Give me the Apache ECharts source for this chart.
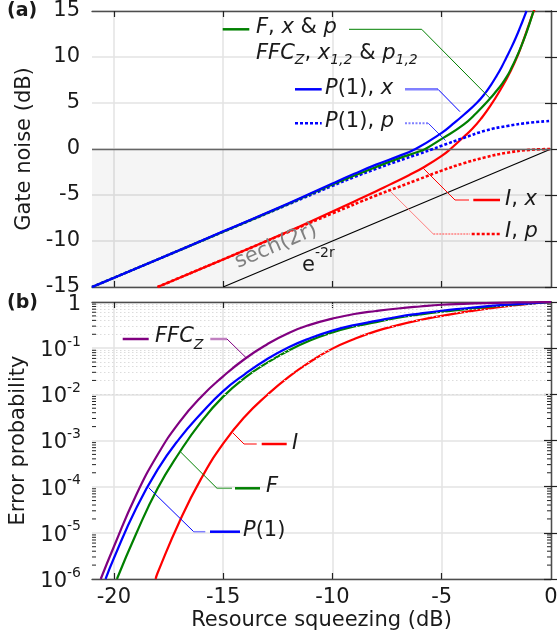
<!DOCTYPE html>
<html><head><meta charset="utf-8">
<script src="https://cdn.jsdelivr.net/npm/echarts@6/dist/echarts.min.js"></script>
<style>html,body{margin:0;padding:0;background:#fff}#c{width:557px;height:642px}</style>
</head><body><div id="c"></div>
<script>
// ---------- tick labels ----------
const xTickLabels = [-20, -15, -10, -5, 0];
const noiseTicks = [-15, -10, -5, 0, 5, 10, 15];
const probTicks = [1e-6, 1e-5, 1e-4, 1e-3, 1e-2, 1e-1, 1];

// ---------- panel (a): gate noise (dB) vs resource squeezing (dB) ----------
const e2rX = [-15, 0];
const e2rY = [-15, 0];

const p1xX = [-21, -18, -15, -12, -10, -9, -8, -7, -6.2, -5, -4.5, -4, -3.4, -3, -2.75, -2.5, -2.25, -2.05, -1.8, -1.6, -1.4, -1.25, -1.12];
const p1xY = [-15, -12, -8.95, -5.9, -3.75, -2.7, -1.7, -0.8, 0, 1.75, 2.7, 3.7, 5.0, 6.1, 6.95, 7.9, 8.95, 9.9, 11.1, 12.15, 13.3, 14.2, 15];

const fX = [-21, -18, -15, -12, -10, -8, -7, -6, -5.75, -5, -4, -3.4, -2.8, -2.5, -2.25, -2, -1.8, -1.6, -1.4, -1.2, -1.0, -0.8];
const fY = [-15, -12, -9, -5.95, -3.85, -1.95, -1.05, -0.25, 0, 1.1, 2.65, 3.95, 5.45, 6.3, 7.05, 7.95, 8.85, 9.85, 10.95, 12.15, 13.5, 15];

const p1pX = [-21, -18, -15, -12, -10, -9, -8, -7, -6, -5.4, -5, -4, -3, -2, -1, 0];
const p1pY = [-15, -12, -9, -6.0, -4.0, -3.05, -2.15, -1.3, -0.5, 0, 0.35, 1.2, 2.0, 2.5, 2.85, 3.05];

const ixX = [-18, -15, -12, -11.5, -10, -9, -8, -7.4, -6.5, -5.8, -5, -4.6, -4, -3.6, -3.2, -2.8, -2.3, -1.85, -1.5, -1.25, -1.0, -0.85, -0.7];
const ixY = [-15, -12, -8.95, -8.42, -6.8, -5.7, -4.6, -3.9, -2.85, -1.95, -0.75, 0, 1.3, 2.2, 3.3, 4.6, 6.5, 8.45, 10.3, 11.9, 13.6, 14.6, 15.5];

const ipX = [-18, -15, -12, -10, -8, -7, -6, -5, -4, -3, -2, -1, 0];
const ipY = [-15, -12.0, -9.0, -7.0, -5.05, -4.15, -3.25, -2.35, -1.55, -0.9, -0.4, -0.1, 0];

// ---------- panel (b): error probability vs resource squeezing (dB) ----------
const ffcX = [-20.6, -20, -19, -18, -17, -16, -15, -14, -13, -12, -11, -10, -9, -8, -7, -6, -5, -4, -3, -2, -1, 0];
const ffcP = [1e-6, 5.0e-6, 6.3e-5, 4.9e-4, 2.5e-3, 8.9e-3, 0.0245, 0.059, 0.12, 0.214, 0.324, 0.437, 0.55, 0.638, 0.724, 0.80, 0.871, 0.912, 0.944, 0.97, 0.986, 1.0];

const pX = [-20.38, -20, -19, -18, -17, -16, -15, -14, -13, -12, -11, -10, -9, -8, -7, -6, -5, -4, -3, -2, -1, 0];
const pP = [1e-6, 2.82e-6, 3.24e-5, 2.34e-4, 1.10e-3, 3.89e-3, 0.01175, 0.0275, 0.0575, 0.1047, 0.166, 0.24, 0.316, 0.389, 0.479, 0.562, 0.646, 0.724, 0.804, 0.871, 0.933, 1.0];

const fbX = [-19.86, -19, -18, -17, -16, -15, -14, -13, -12, -11, -10, -9, -8, -7, -6, -5, -4, -3, -2, -1, 0];
const fbP = [1e-6, 9.12e-6, 9.12e-5, 5.5e-4, 2.57e-3, 8.91e-3, 0.0229, 0.0479, 0.0891, 0.148, 0.219, 0.295, 0.367, 0.457, 0.537, 0.617, 0.692, 0.776, 0.851, 0.923, 1.0];

const iX = [-18.09, -18, -17, -16, -15, -14, -13, -12, -11, -10, -9, -8, -7, -6, -5, -4, -3, -2, -1, 0];
const iP = [1e-6, 1.35e-6, 1.74e-5, 1.51e-4, 8.51e-4, 3.31e-3, 9.55e-3, 0.024, 0.0513, 0.0977, 0.158, 0.234, 0.316, 0.407, 0.501, 0.603, 0.708, 0.813, 0.912, 1.0];

// ---------- styling ----------
const FONT = 'DejaVu Sans';
const TXT = '#1a1a1a';
const BLUE = '#0000ff', GREEN = '#008000', RED = '#ff0000', PURPLE = '#800080';
const LBLUE = '#8080ff', LGREEN = '#66b366', LRED = '#ff8080', LPURPLE = '#c080c0';
const FRAME = '#4d4d4d';
const GRIDC = '#e3e3e3';

const pairs = (xs, ys) => xs.map((x, i) => [x, ys[i]]);

const chart = echarts.init(document.getElementById('c'), null, {renderer: 'canvas'});

function xAx(grid, pos, labels, split, name) {
  return {
    type: 'value', gridIndex: grid, position: pos, min: -21, max: 0,
    axisLine: {show: true, onZero: false, lineStyle: {color: FRAME, width: 1.3}},
    axisTick: {show: true, inside: true, length: 6, customValues: [-20, -15, -10, -5], lineStyle: {color: '#222', width: 1.2}},
    axisLabel: {show: labels, customValues: xTickLabels, fontSize: 21, color: TXT, fontFamily: FONT, margin: 8},
    splitLine: {show: split, lineStyle: {color: GRIDC, width: 1.5}},
    name: name || '', nameLocation: 'middle', nameGap: 31,
    nameTextStyle: {fontSize: 21, color: TXT, fontFamily: FONT}
  };
}
const logLabel = v => {
  const e = Math.round(Math.log10(v));
  return e === 0 ? '{b|1}' : '{b|10}{s|' + e + '}';
};

const option = {
  animation: false,
  backgroundColor: '#fff',
  textStyle: {fontFamily: FONT},
  grid: [
    {left: 92, top: 11, width: 459, height: 276, outerBoundsMode: 'none', containLabel: false},
    {left: 92, top: 302, width: 459, height: 277, outerBoundsMode: 'none', containLabel: false}
  ],
  xAxis: [
    xAx(0, 'bottom', false, true),
    xAx(0, 'top', false, false),
    xAx(1, 'bottom', true, true, 'Resource squeezing (dB)'),
    xAx(1, 'top', false, false)
  ],
  yAxis: [
    {type: 'value', gridIndex: 0, position: 'left', min: -15, max: 15, interval: 5,
     axisLine: {show: true, lineStyle: {color: FRAME, width: 1.3}},
     axisTick: {show: true, inside: true, length: 6, lineStyle: {color: '#222', width: 1.2}},
     axisLabel: {fontSize: 21, color: TXT, fontFamily: FONT, margin: 12},
     splitLine: {show: true, lineStyle: {color: GRIDC, width: 1.5}},
     name: 'Gate noise (dB)', nameLocation: 'middle', nameGap: 55,
     nameTextStyle: {fontSize: 21, color: TXT, fontFamily: FONT}},
    {type: 'value', gridIndex: 0, position: 'right', min: -15, max: 15, interval: 5,
     axisLine: {show: true, lineStyle: {color: FRAME, width: 1.3}},
     axisTick: {show: true, inside: true, length: 6, lineStyle: {color: '#222', width: 1.2}},
     axisLabel: {show: false}, splitLine: {show: false}},
    {type: 'log', logBase: 10, gridIndex: 1, position: 'left', min: 1e-6, max: 1, interval: 1,
     axisLine: {show: true, lineStyle: {color: FRAME, width: 1.3}},
     axisTick: {show: true, inside: true, length: 7, lineStyle: {color: '#222', width: 1.2}},
     axisLabel: {formatter: logLabel, color: TXT, fontFamily: FONT, margin: 11,
       rich: {b: {fontSize: 21, lineHeight: 26, verticalAlign: 'bottom', color: TXT, fontFamily: FONT},
              s: {fontSize: 14, lineHeight: 14, verticalAlign: 'top', color: TXT, fontFamily: FONT}}},
     splitLine: {show: true, lineStyle: {color: GRIDC, width: 1.5}},
     name: 'Error probability', nameLocation: 'middle', nameGap: 55,
     nameTextStyle: {fontSize: 21, color: TXT, fontFamily: FONT}},
    {type: 'log', logBase: 10, gridIndex: 1, position: 'right', min: 1e-6, max: 1, interval: 1,
     axisLine: {show: true, lineStyle: {color: FRAME, width: 1.3}},
     axisTick: {show: true, inside: true, length: 7, lineStyle: {color: '#222', width: 1.2}},
     axisLabel: {show: false}, splitLine: {show: false}}
  ],
  series: []
};

function line(name, data, xi, yi, color, width, dash, z) {
  return {
    name, type: 'line', xAxisIndex: xi, yAxisIndex: yi, data, symbol: 'none',
    smooth: 0.5, clip: true, z: z || 3, silent: true,
    lineStyle: {color, width, type: dash || 'solid', cap: 'butt'}
  };
}

// minor gridline values for the log axis
const minorVals = [];
for (let n = -6; n < 0; n++) for (let k = 2; k <= 9; k++) minorVals.push(k * Math.pow(10, n));

option.series = [
  // shading + zero line host
  {type: 'line', xAxisIndex: 0, yAxisIndex: 0, data: [], silent: true, z: 1,
   markArea: {silent: true, itemStyle: {color: 'rgba(0,0,0,0.04)'}, data: [[{yAxis: -15}, {yAxis: 0}]]},
   markLine: {silent: true, symbol: ['none', 'none'], label: {show: false},
     lineStyle: {color: '#666', width: 1.3, type: 'solid'}, data: [{yAxis: 0}]}},
  line('e^{-2r}', pairs(e2rX, e2rY), 0, 0, '#000', 1.2, 'solid', 2),
  line('I, p', pairs(ipX, ipY), 0, 0, RED, 2.6, [3, 2], 3),
  line('I, x', pairs(ixX, ixY), 0, 0, RED, 2.2, 'solid', 4),
  line('P(1), p', pairs(p1pX, p1pY), 0, 0, BLUE, 2.6, [3, 2], 5),
  line('F', pairs(fX, fY), 0, 0, GREEN, 2.2, 'solid', 6),
  line('P(1), x', pairs(p1xX, p1xY), 0, 0, BLUE, 2.2, 'solid', 7),
  // minor grid in panel (b)
  {type: 'line', xAxisIndex: 2, yAxisIndex: 2, data: [], silent: true, z: 1,
   markLine: {silent: true, symbol: ['none', 'none'], label: {show: false},
     lineStyle: {color: '#dcdcdc', width: 1, type: [1.5, 2.5]}, data: minorVals.map(v => ({yAxis: v}))}},
  line('I', pairs(iX, iP), 2, 2, RED, 2.2, 'solid', 3),
  line('F', pairs(fbX, fbP), 2, 2, GREEN, 2.2, 'solid', 4),
  line('P(1)', pairs(pX, pP), 2, 2, BLUE, 2.2, 'solid', 5),
  line('FFC_Z', pairs(ffcX, ffcP), 2, 2, PURPLE, 2.2, 'solid', 6)
];

chart.setOption(option);

// ---------- annotations ----------
const G = [];
const seg = (x1, y1, x2, y2, stroke, w, dash) => G.push({type: 'line', silent: true, z: 100,
  shape: {x1, y1, x2, y2}, style: {stroke, lineWidth: w, lineDash: dash || null}});
const poly = (pts, stroke, w, dash) => G.push({type: 'polyline', silent: true, z: 100,
  shape: {points: pts}, style: {stroke, lineWidth: w, fill: null, lineDash: dash || null}});
const RICH = (lh) => ({
  n: {fontSize: 21, fontFamily: FONT, fill: TXT, lineHeight: lh, verticalAlign: 'top'},
  i: {fontSize: 21, fontFamily: FONT, fontStyle: 'italic', fill: TXT, lineHeight: lh, verticalAlign: 'top'},
  sub: {fontSize: 14, fontFamily: FONT, fontStyle: 'italic', fill: TXT, lineHeight: 14, verticalAlign: 'bottom'}
});
const txt = (x, y, text, lh) => G.push({type: 'text', silent: true, z: 101, x, y,
  style: {text, rich: RICH(lh || 24), fontSize: 21, fontFamily: FONT, fill: TXT, align: 'left', verticalAlign: 'middle'}});

// panel (a)
seg(222.7, 29.3, 249.3, 29.3, GREEN, 2.5);
txt(256, 29.5, '{i|F}{n|, }{i|x}{n| & }{i|p}');
poly([[349, 29.3], [421.7, 29.3], [490, 98.3]], GREEN, 1);
txt(256, 55.5, '{i|FFC}{sub|Z}{n|, }{i|x}{sub|1,2}{n| & }{i|p}{sub|1,2}');

seg(295, 89.3, 321.7, 89.3, BLUE, 2.5);
txt(325, 90.5, '{i|P}{n|(1), }{i|x}');
seg(405, 89.3, 438, 89.3, LBLUE, 2.5);
seg(438, 89.3, 460, 111.7, BLUE, 1);

seg(295, 123.3, 321.7, 123.3, BLUE, 2.6, [3, 2]);
txt(325, 123.5, '{i|P}{n|(1), }{i|p}');
seg(405, 123.3, 428.3, 123.3, LBLUE, 2, [2, 1.5]);
seg(428.3, 123.3, 445.5, 140.5, BLUE, 0.8);

poly([[423.3, 168.3], [455, 200], [469, 200]], RED, 1);
seg(455, 200, 469, 200, LRED, 1.5);
seg(473.3, 200, 500, 200, RED, 2.5);
txt(505, 201, '{i|I}{n|, }{i|x}');

poly([[390, 191], [433.3, 234]], LRED, 1);
seg(433.3, 234, 470, 234, LRED, 1.5, [2, 1]);
seg(471.7, 234, 500, 234, RED, 2.6, [3, 2]);
txt(505, 233.5, '{i|I}{n|, }{i|p}');

// sech(2r) and e^{-2r} labels
G.push({type: 'text', silent: true, z: 101, x: 276, y: 246, rotation: 0.40,
  style: {text: 'sech(2r)', fontSize: 21, fontFamily: FONT, fill: '#808080', align: 'center', verticalAlign: 'middle'}});
G.push({type: 'text', silent: true, z: 101, x: 302, y: 261,
  style: {text: '{e|e}{s|-2r}', align: 'left', verticalAlign: 'middle',
    rich: {e: {fontSize: 21, fontFamily: FONT, fill: TXT, lineHeight: 30, verticalAlign: 'bottom'},
           s: {fontSize: 14, fontFamily: FONT, fill: TXT, lineHeight: 14, verticalAlign: 'top'}}}});

// panel (b)
seg(122.7, 339, 148.7, 339, PURPLE, 2.5);
txt(155, 339.5, '{i|FFC}{sub|Z}', 26);
seg(210.3, 339, 227, 339, LPURPLE, 2.5);
seg(227, 339, 246.7, 358.3, PURPLE, 1);

seg(233, 433, 244, 444, RED, 1);
seg(244, 444, 256.7, 444, LRED, 2);
seg(261.7, 444, 286.7, 444, RED, 2.5);
txt(292, 445, '{i|I}');

seg(180.3, 451.7, 217, 488.3, GREEN, 1);
seg(217, 488.3, 232, 488.3, LGREEN, 1.5);
seg(235, 488.3, 260, 488.3, GREEN, 2.5);
txt(266, 488.5, '{i|F}');

seg(148.7, 487.7, 193.7, 531.7, BLUE, 1);
seg(193.7, 531.7, 205.3, 531.7, LBLUE, 1.5);
seg(210, 531.7, 240, 531.7, BLUE, 2.5);
txt(243, 532.5, '{i|P}{n|(1)}');

// panel letters
G.push({type: 'text', silent: true, z: 101, x: 7, y: 11,
  style: {text: '(a)', fontSize: 19, fontWeight: 'bold', fontFamily: FONT, fill: TXT, verticalAlign: 'middle'}});
G.push({type: 'text', silent: true, z: 101, x: 7, y: 303,
  style: {text: '(b)', fontSize: 19, fontWeight: 'bold', fontFamily: FONT, fill: TXT, verticalAlign: 'middle'}});

// minor ticks on log axes (left & right)
const L = chart.convertToPixel({xAxisIndex: 2, yAxisIndex: 2}, [-21, 1]);
const R = chart.convertToPixel({xAxisIndex: 2, yAxisIndex: 2}, [0, 1]);
minorVals.forEach(v => {
  const py = chart.convertToPixel({xAxisIndex: 2, yAxisIndex: 2}, [-21, v])[1];
  seg(L[0], py, L[0] + 4, py, '#222', 1);
  seg(R[0], py, R[0] - 4, py, '#222', 1);
});

chart.setOption({graphic: G});
</script>
</body></html>
